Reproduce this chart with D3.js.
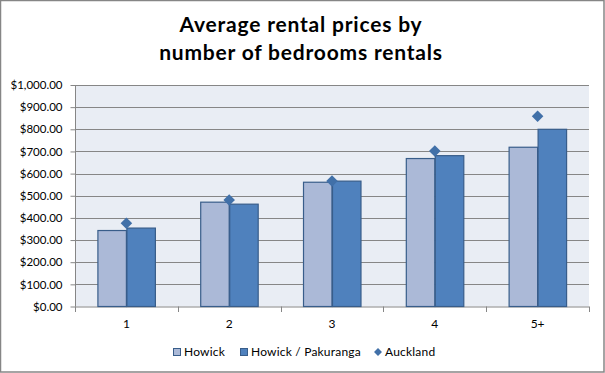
<!DOCTYPE html>
<html>
<head>
<meta charset="utf-8">
<script src="https://cdn.jsdelivr.net/npm/d3@7"></script>
<style>
  body { margin: 0; background: #fff; }
  svg text { font-family: Lato, "Open Sans", sans-serif; fill: #000; }
</style>
</head>
<body>
<div id="chart"></div>
<script>
"use strict";

// chart data
var categories = ["1", "2", "3", "4", "5+"];
var seriesNames = ["Howick", "Howick / Pakuranga"];
var howick = [343, 471, 561, 668, 719];
var pakuranga = [354, 462, 566, 681, 800];
var auckland = [376, 481, 567, 702, 859];
var yTicks = [0, 100, 200, 300, 400, 500, 600, 700, 800, 900, 1000];
var titleLines = ["Average rental prices by", "number of bedrooms rentals"];

var W = 605, H = 373;
var plot = { left: 75, right: 589, top: 85, bottom: 306.5 };

var barFill = ["#abb9d7", "#4f81bd"];
var barStroke = "#385d8a";
var diamondFill = "#4170a8";
var gridColor = "#868686";

var svg = d3.select("#chart").append("svg")
    .attr("width", W)
    .attr("height", H);

// outer chart frame
svg.append("rect")
    .attr("x", 0.5).attr("y", 0.5)
    .attr("width", W - 1.5).attr("height", H - 1.5)
    .attr("fill", "#fff")
    .attr("stroke", "#868686")
    .attr("stroke-width", 1.5);

// title
svg.append("g").selectAll("text")
    .data(titleLines)
    .enter().append("text")
    .attr("x", 301)
    .attr("y", function(d, i) { return 32 + i * 28; })
    .attr("text-anchor", "middle")
    .style("font-size", "21px")
    .style("letter-spacing", "0.8px")
    .style("font-weight", "bold")
    .text(function(d) { return d; });

var y = d3.scaleLinear()
    .domain([0, 1000])
    .range([plot.bottom, plot.top]);

var x0 = d3.scaleBand()
    .domain(categories)
    .range([plot.left, plot.right])
    .paddingInner(0.436)
    .paddingOuter(0.218);

var x1 = d3.scaleBand()
    .domain(seriesNames)
    .range([0, x0.bandwidth()]);

// plot background
svg.append("rect")
    .attr("x", plot.left).attr("y", plot.top)
    .attr("width", plot.right - plot.left)
    .attr("height", plot.bottom - plot.top)
    .attr("fill", "#e9edf4");

// gridlines
svg.append("g").selectAll("line")
    .data(yTicks.slice(1))
    .enter().append("line")
    .attr("x1", plot.left).attr("x2", plot.right)
    .attr("y1", function(d) { return Math.round(y(d)) + 0.5; })
    .attr("y2", function(d) { return Math.round(y(d)) + 0.5; })
    .attr("stroke", gridColor);

// y axis
var yAxis = d3.axisLeft(y)
    .tickValues(yTicks)
    .tickSize(5)
    .tickPadding(8)
    .tickFormat(d3.format("$,.2f"));

var gy = svg.append("g")
    .attr("transform", "translate(" + (plot.left + 0.5) + ",0)")
    .call(yAxis);
gy.selectAll("path, line").attr("stroke", gridColor);
gy.select(".domain").attr("d", "M0," + plot.top + "V" + plot.bottom);
gy.selectAll("text").style("font-size", "11.5px").style("font-family", "Lato, sans-serif");

// x axis, ticks between categories
var xAxisLine = svg.append("g");
xAxisLine.append("line")
    .attr("x1", plot.left).attr("x2", plot.right)
    .attr("y1", plot.bottom + 0.5).attr("y2", plot.bottom + 0.5)
    .attr("stroke", gridColor);
var bounds = d3.range(categories.length + 1).map(function(i) {
    return plot.left + i * x0.step();
});
xAxisLine.selectAll("line.tick")
    .data(bounds)
    .enter().append("line")
    .attr("class", "tick")
    .attr("x1", function(d) { return Math.round(d) + 0.5; })
    .attr("x2", function(d) { return Math.round(d) + 0.5; })
    .attr("y1", plot.bottom).attr("y2", plot.bottom + 5.5)
    .attr("stroke", gridColor);
xAxisLine.selectAll("text")
    .data(categories)
    .enter().append("text")
    .attr("x", function(d) { return x0(d) + x0.bandwidth() / 2; })
    .attr("y", 328)
    .attr("text-anchor", "middle")
    .style("font-size", "12px")
    .text(function(d) { return d; });

// bars
var rows = categories.map(function(c, i) {
    return { cat: c, values: [howick[i], pakuranga[i]], auckland: auckland[i] };
});

var groups = svg.append("g").selectAll("g")
    .data(rows)
    .enter().append("g")
    .attr("transform", function(d) { return "translate(" + x0(d.cat) + ",0)"; });

groups.selectAll("rect")
    .data(function(d) {
        return d.values.map(function(v, j) { return { name: seriesNames[j], value: v, j: j }; });
    })
    .enter().append("rect")
    .attr("x", function(d) { return x1(d.name) + 0.5; })
    .attr("y", function(d) { return y(d.value); })
    .attr("width", x1.bandwidth() - 0.5)
    .attr("height", function(d) { return plot.bottom - y(d.value); })
    .attr("fill", function(d) { return barFill[d.j]; })
    .attr("stroke", barStroke)
    .attr("stroke-width", 1.2);

// Auckland diamonds
var diamond = d3.symbol().type(d3.symbolDiamond2).size(85);
svg.append("g").selectAll("path")
    .data(rows)
    .enter().append("path")
    .attr("d", diamond)
    .attr("transform", function(d) {
        return "translate(" + (x0(d.cat) + x0.bandwidth() / 2) + "," + y(d.auckland) + ")";
    })
    .attr("fill", diamondFill);

// legend
var legendItems = [
    { name: "Howick", kind: "rect", fill: barFill[0], x: 173 },
    { name: "Howick / Pakuranga", kind: "rect", fill: barFill[1], x: 240 },
    { name: "Auckland", kind: "diamond", fill: diamondFill, x: 374 }
];
var leg = svg.append("g").selectAll("g")
    .data(legendItems)
    .enter().append("g")
    .attr("transform", function(d) { return "translate(" + d.x + ",352)"; });

leg.filter(function(d) { return d.kind === "rect"; })
    .append("rect")
    .attr("x", 0.5).attr("y", -3.5)
    .attr("width", 7).attr("height", 7)
    .attr("fill", function(d) { return d.fill; })
    .attr("stroke", barStroke);

leg.filter(function(d) { return d.kind === "diamond"; })
    .append("path")
    .attr("d", d3.symbol().type(d3.symbolDiamond2).size(40))
    .attr("transform", "translate(4,0)")
    .attr("fill", function(d) { return d.fill; });

leg.append("text")
    .attr("x", 11)
    .attr("y", 4)
    .style("font-size", "12px")
    .style("letter-spacing", "0.2px")
    .text(function(d) { return d.name; });
</script>
</body>
</html>
